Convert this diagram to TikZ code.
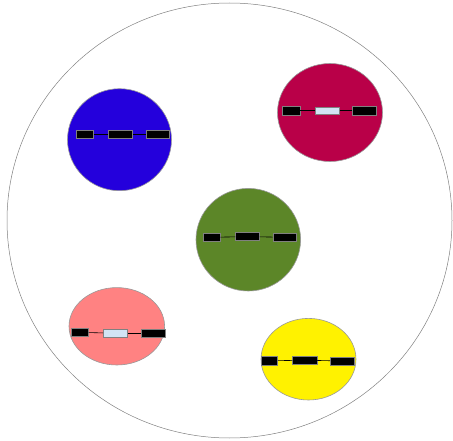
\documentclass[tikz,border=0pt]{standalone}
\usetikzlibrary{shapes.geometric}

\begin{document}
\begin{tikzpicture}[x=1pt,y=-1pt,
    cell/.style={ellipse,draw=gray!80,line width=0.6pt,inner sep=0pt},
    block/.style={draw=gray,fill=black,line width=0.6pt,inner sep=0pt,minimum height=8.3pt},
    lightblock/.style={block,fill=lightfill},
    link/.style={black,line width=0.6pt}]
    \definecolor{lightfill}{RGB}{210,228,244}
    \useasboundingbox (0,0) rectangle (453,441);
    \node[ellipse,draw=gray,line width=0.5pt,minimum width=445pt,minimum height=435pt,inner sep=0pt] (outer) at (229.5,220.5) {};

    \node[cell,fill={rgb,255:red,36;green,0;blue,220},minimum width=104pt,minimum height=102pt] (blue) at (119.5,139.7) {};
    \node[block,minimum width=16.7pt] (blueL) at (85,134.2) {};
    \node[block,minimum width=24.4pt] (blueM) at (120.5,134.2) {};
    \node[block,minimum width=23.3pt] (blueR) at (157.7,134.2) {};
    \draw[link] (blueL) -- (blueM);
    \draw[link] (blueM) -- (blueR);

    \node[cell,fill={rgb,255:red,185;green,0;blue,72},minimum width=105pt,minimum height=98pt] (red) at (330,112.5) {};
    \node[block,minimum width=17.3pt] (redL) at (291.3,110.8) {};
    \node[lightblock,minimum width=24pt,minimum height=6.7pt] (redM) at (327.3,110.8) {};
    \node[block,minimum width=24.4pt] (redR) at (364.5,110.8) {};
    \draw[link] (redL) -- (redM);
    \draw[link] (redM) -- (redR);

    \node[cell,fill={rgb,255:red,92;green,134;blue,40},minimum width=104.6pt,minimum height=102.6pt] (green) at (248.3,239.7) {};
    \node[block,minimum width=16.7pt] (greenL) at (211.7,237.3) {};
    \node[block,minimum width=23.6pt,minimum height=7.7pt] (greenM) at (247.5,236.6) {};
    \node[block,minimum width=23.7pt] (greenR) at (284.8,237.3) {};
    \draw[link] (greenL) -- (greenM);
    \draw[link] (greenM) -- (greenR);

    \node[cell,fill={rgb,255:red,255;green,130;blue,130},minimum width=95.6pt,minimum height=77.4pt] (pink) at (116.8,326.3) {};
    \node[block,minimum width=17.3pt,minimum height=8.7pt] (pinkL) at (79.7,332.3) {};
    \node[lightblock,minimum width=24.4pt,minimum height=8.7pt] (pinkM) at (115.5,333.3) {};
    \node[block,minimum width=24.3pt,minimum height=8.7pt] (pinkR) at (153.2,333.3) {};
    \draw[link] (pinkL) -- (pinkM);
    \draw[link] (pinkM) -- (pinkR);

    \node[cell,fill=yellow,minimum width=95pt,minimum height=81.6pt] (yellow) at (308.5,359.2) {};
    \node[block,minimum width=16.7pt,minimum height=9pt] (yellowL) at (269.3,360.8) {};
    \node[block,minimum width=24.3pt] (yellowM) at (304.8,360.2) {};
    \node[block,minimum width=24pt] (yellowR) at (342.3,361) {};
    \draw[link] (yellowL) -- (yellowM);
    \draw[link] (yellowM) -- (yellowR);
\end{tikzpicture}
\end{document}
